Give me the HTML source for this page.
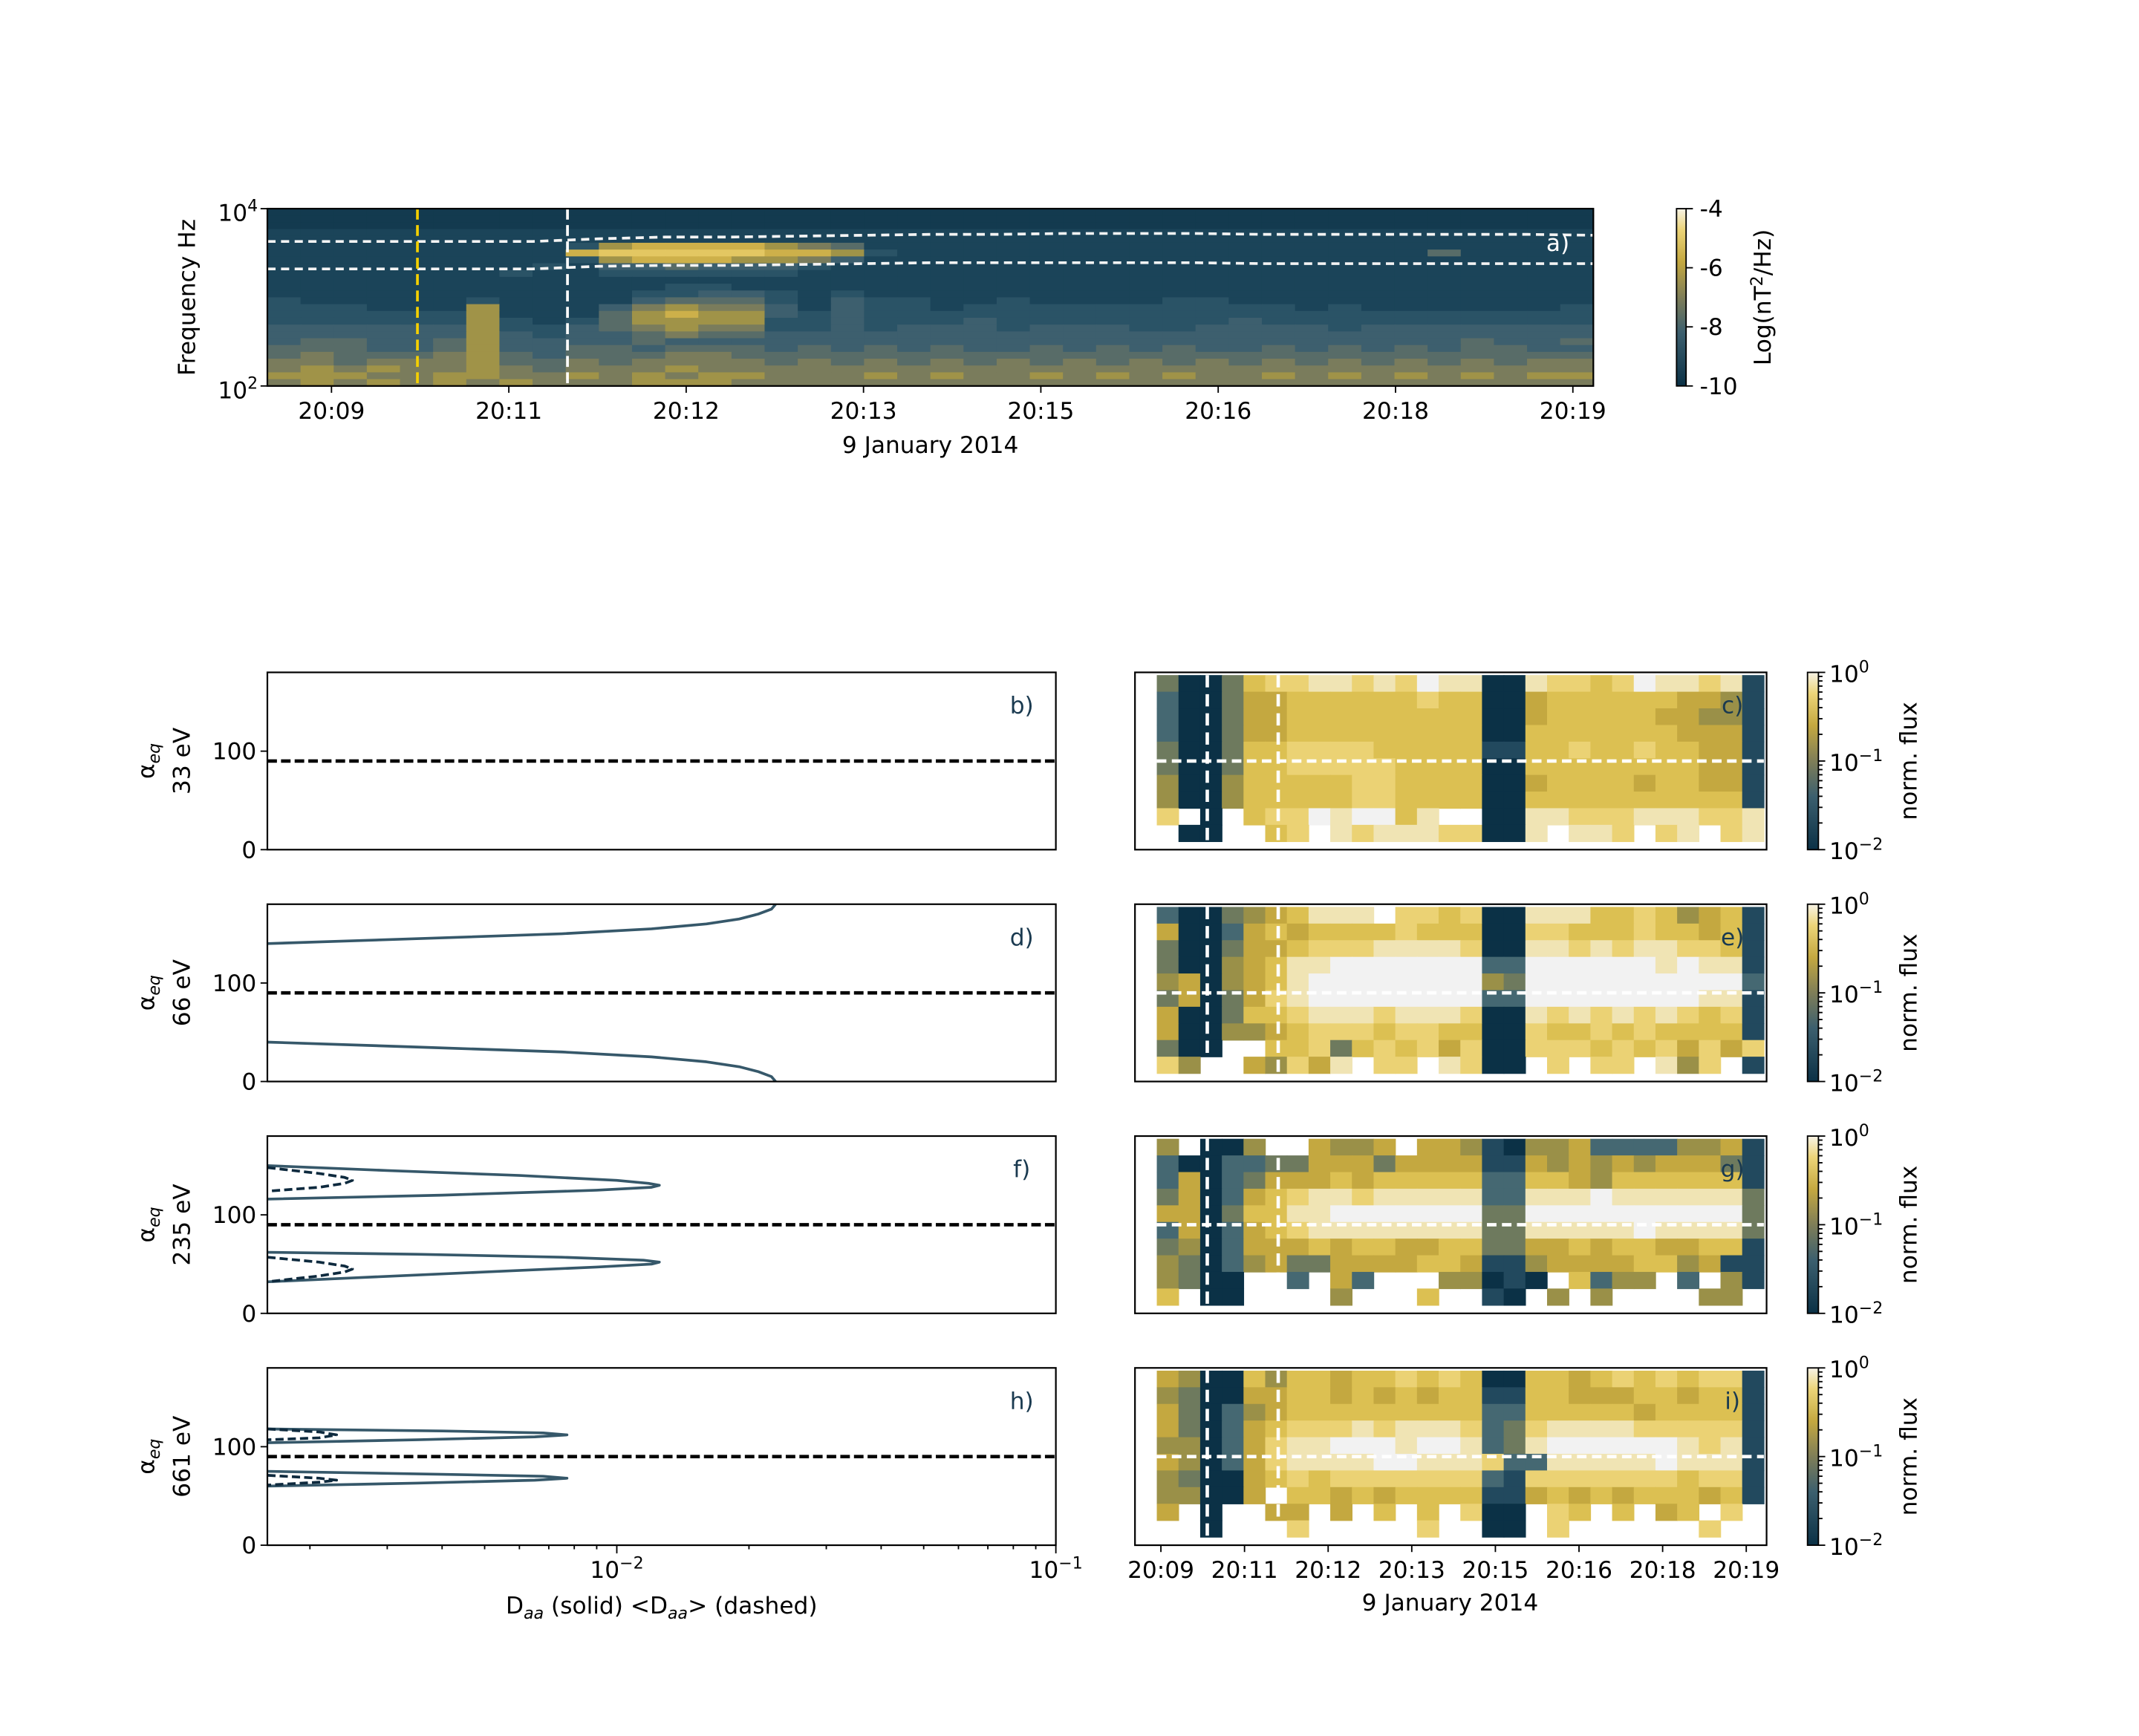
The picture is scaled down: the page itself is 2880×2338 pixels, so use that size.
<!DOCTYPE html>
<html><head><meta charset="utf-8"><style>
html,body{margin:0;padding:0;background:#fff}
svg{display:block;font-family:"DejaVu Sans","Liberation Sans",sans-serif}
</style></head><body>
<svg id="fig" xmlns="http://www.w3.org/2000/svg" width="2880" height="2338" viewBox="0 0 1568 1272.9" preserveAspectRatio="none">
<defs>
<linearGradient id="cb" x1="0" y1="1" x2="0" y2="0">
<stop offset="0" stop-color="#0b3146"/><stop offset="0.3" stop-color="#3c5f6e"/><stop offset="0.5" stop-color="#7f7e58"/><stop offset="0.7" stop-color="#c4a840"/><stop offset="0.88" stop-color="#ecd478"/><stop offset="1" stop-color="#f7f3e6"/>
</linearGradient>
</defs>
</svg>
<script>
// ---------- data ----------
const specRows = [
"0000000000000000000000000000000000000000",
"0000000000000000000000000000000000000000",
"0000000000000000000000000000000000000000",
"1111111111111111111111111111111111111111",
"1111111111111111111111111111111111111111",
"1111111112677776541111111111111111111111",
"1111111117888887762111111111111111141111",
"1111111112677766531111111111111111111111",
"1111111121334333211111111111111111111111",
"1111111211222222111111111111111111111111",
"1111111111111111111111111111111111111111",
"1111111111112211111111111111111111111111",
"1111111111122332121111111111111111111111",
"2111112111134442132211211112211111111111",
"2221116111356553132212222222222121111112",
"2222226111467663232222222222222222222222",
"2222226212466662232223222222232222222222",
"3333336223456552232333233322333323333333",
"3333336323345443333333333333333333333333",
"3443346333343333333333333333333333334334",
"4443346334434443434343343434334343434433",
"4544456434445544444444444444444444444444",
"5545556445455554545454545454545454545455",
"5656556545556555555555555555555555555555",
"6665566556565665556565565656556565656566",
"5656565655566655555555555555555555555555"];
const specTickLabels = ["20:09","20:11","20:12","20:13","20:15","20:16","20:18","20:19"];
const fceUpper = [3.63,3.63,3.63,3.63,3.63,3.66,3.68,3.68,3.69,3.70,3.71,3.71,3.72,3.72,3.72,3.71,3.71,3.71,3.71,3.71,3.70];
const fceLower = [3.32,3.32,3.32,3.32,3.32,3.35,3.36,3.36,3.37,3.38,3.39,3.39,3.39,3.39,3.39,3.38,3.38,3.38,3.38,3.38,3.38];
const heatC = [
"3003677887879880087767988781",
"2003556666667660056666665541",
"2003556666666660056666655441",
"2003556666666660066666665551",
"3003667777666661166766766551",
"3003667777766660066666666551",
"4004666667766660056666566551",
"4004666667766660066666666661",
"7.0.677989968..0088777888778",
".00..67.8788877008.887.78.78"];
const heatE = [
"2003456888.776700888667645 61",
"5002565666676660077666766561",
"3003556777888870088787887761",
"3004568899999992299999989881",
"4504568999999994399999999992",
"3503578999999992299999999881",
"5003667888788870087878787671",
"5004456777677660076676766661",
"300..6673676757007776767575761",
"74..54758.77.8700.7.77.847.1"];
const heatG = [
"4.004..5445.5541044522224451",
"2002233555355551154545455531",
"2502355565666662266546666661",
"3502567887888882288898888883",
"5503668899999993399999999993",
"2502567888888883388888988883",
"3402555656655663355656655661",
"4302453355556651145555664511",
"4300..2.52...44010.6244.2.41.",
"6.00....4...6..10.4.4....44."];
const heatI = [
"5400646656676760066567676771",
"4300556656565661166555665661",
"5302456666666662266666566661",
"5302567778788872378888777771",
"4402578899989982389999998781",
"5402578888998887228888898881",
"4300567677777772177777776771",
"44005.665656666115656566 6561",
"5.0..55.5.6.6.700.76.6.56.7.",
"..0...7.....7..00.7......7.."];
const heatTickLabels = ["20:09","20:11","20:12","20:13","20:15","20:16","20:18","20:19"];
// pitch-angle curves (alpha_eq degrees, D values)
const dUpA = [140,145,150,155,160,165,170,175,180];
const dUpD = [0.0016,0.0035,0.0075,0.012,0.016,0.019,0.021,0.0225,0.023];
const dLoA = [40,35,30,25,20,15,10,5,0];
const dLoD = [0.0016,0.0035,0.0075,0.012,0.016,0.019,0.021,0.0225,0.023];
const fUpA = [150,145,140,135,132,130,128,125,120,116];
const fUpD = [0.0016,0.0030,0.006,0.010,0.0118,0.0125,0.0120,0.009,0.004,0.0016];
const fLoA = [62,60,57,54,52,50,47,42,36,32];
const fLoD = [0.0016,0.0035,0.0075,0.0115,0.0125,0.012,0.009,0.005,0.0025,0.0016];
const fUpDashA = [148,142,138,135,132,128,124];
const fUpDashD = [0.0016,0.0021,0.0024,0.0025,0.0024,0.0021,0.0016];
const fLoDashA = [57,52,48,45,42,38,32];
const fLoDashD = [0.0016,0.0021,0.0024,0.0025,0.0024,0.0021,0.0016];
const hUpA = [118,116,114,112,110,107,104];
const hUpD = [0.0016,0.004,0.0068,0.0077,0.0065,0.0035,0.0016];
const hLoA = [75,72,70,68,66,63,60];
const hLoD = [0.0016,0.004,0.0068,0.0077,0.0065,0.0035,0.0016];
const hUpDashA = [118,115,112,109,107];
const hUpDashD = [0.0016,0.0021,0.0023,0.0021,0.0016];
const hLoDashA = [71,68,66,64,61];
const hLoDashD = [0.0016,0.0021,0.0023,0.0021,0.0016];

// ---------- helpers ----------
const NS="http://www.w3.org/2000/svg";
const svg=document.getElementById('fig');
const pal=["#133a4f","#1b4459","#2a5366","#3d5f6e","#586c68","#7a7c5c","#a09348","#cdb04a","#e3c762","#f0e0a0"];
const pal2=["#0b3146","#22495e","#456872","#6e7a5e","#9a9048","#c4a840","#dcc052","#ebd274","#f0e4b4","#f2f2f2"];
const FS=17;
function el(tag,attrs,parent){const e=document.createElementNS(NS,tag);for(const k in attrs)e.setAttribute(k,attrs[k]);(parent||svg).appendChild(e);return e;}
function txt(s,x,y,size,anchor,parent,extra){const t=el('text',Object.assign({x:x,y:y,'font-size':size,'text-anchor':anchor||'middle',fill:'#000'},extra||{}),parent);t.textContent=s;return t;}

// ---------- panel a ----------
const A={x0:196,x1:1168,y0:153,y1:283};
const ga=el('g',{});


const nC=40,nR=specRows.length;
const cw=(A.x1-A.x0)/nC,rh=(A.y1-A.y0)/nR;
specRows.forEach((row,r)=>{for(let c=0;c<nC;c++){const ch=row[c]||'1';const v=parseInt(ch);
 const rc=el('rect',{x:A.x0+c*cw,y:A.y0+r*rh,width:cw+0.5,height:rh+0.5,fill:pal[isNaN(v)?1:v]},ga);
 
 }});
function fy(lf){return A.y1-(lf-2)/2*(A.y1-A.y0);}
function fx(i,n){return A.x0+i/(n-1)*(A.x1-A.x0);}
[fceUpper,fceLower].forEach((arr,k)=>{const p=el('polyline',{points:arr.map((v,i)=>fx(i,arr.length)+','+fy(v)).join(' '),fill:'none',stroke:'#f4f4f4','stroke-width':2,'stroke-dasharray':'6,4'},ga);
 
 });
let vl=el('line',{x1:306,x2:306,y1:A.y0,y2:A.y1,stroke:'#f5d000','stroke-width':2,'stroke-dasharray':'8,4'},ga);


vl=el('line',{x1:416,x2:416,y1:A.y0,y2:A.y1,stroke:'#fff','stroke-width':2,'stroke-dasharray':'8,4'},ga);


el('rect',{x:A.x0,y:A.y0,width:A.x1-A.x0,height:A.y1-A.y0,fill:'none',stroke:'#000','stroke-width':1.2},ga);
txt('a)',1142,184,FS,'middle',ga,{fill:'#fff'});
specTickLabels.forEach((l,i)=>{const x=243+i*130;el('line',{x1:x,x2:x,y1:A.y1,y2:A.y1+5,stroke:'#000'},ga);const t=txt(l,x,307,FS,'middle',ga);
 
 });
txt('9 January 2014',682,332,FS,'middle',ga);
el('line',{x1:A.x0-5,x2:A.x0,y1:A.y0,y2:A.y0,stroke:'#000'},ga);
el('line',{x1:A.x0-5,x2:A.x0,y1:A.y1,y2:A.y1,stroke:'#000'},ga);
let t=el('text',{x:189,y:162,'font-size':FS,'text-anchor':'end'},ga);t.innerHTML='10<tspan dy="-7" font-size="12">4</tspan>';
t=el('text',{x:189,y:292,'font-size':FS,'text-anchor':'end'},ga);t.innerHTML='10<tspan dy="-7" font-size="12">2</tspan>';
t=txt('Frequency Hz',143,218,FS,'middle',ga,{transform:'rotate(-90 143 218)'});


// colorbar a
const cba=el('g',{});


el('rect',{x:1229,y:153,width:7,height:130,fill:'url(#cb)',stroke:'#000','stroke-width':1},cba);
['-4','-6','-8','-10'].forEach((l,i)=>{const y=153+i*130/3;el('line',{x1:1236,x2:1241,y1:y,y2:y,stroke:'#000'},cba);txt(l,1246,y+6,FS,'start',cba);});
t=el('text',{x:1298,y:218,'font-size':FS,'text-anchor':'middle',transform:'rotate(-90 1298 218)'},cba);t.innerHTML='Log(nT<tspan dy="-6" font-size="12">2</tspan><tspan dy="6">/Hz)</tspan>';

// ---------- left panels ----------
const L={x0:196,x1:774};
const tops=[493,663,833,1003],PH=130;
function lx(d){return L.x0+(Math.log10(d)-Math.log10(0.0016))/( -1-Math.log10(0.0016))*(L.x1-L.x0);}
const energies=['33 eV','66 eV','235 eV','661 eV'];
const leftLetters=['b)','d)','f)','h)'];
const curves=[[],[[dUpA,dUpD,0],[dLoA,dLoD,0]],[[fUpA,fUpD,0],[fLoA,fLoD,0],[fUpDashA,fUpDashD,1],[fLoDashA,fLoDashD,1]],[[hUpA,hUpD,0],[hLoA,hLoD,0],[hUpDashA,hUpDashD,1],[hLoDashA,hLoDashD,1]]];
tops.forEach((top,k)=>{
 const g=el('g',{});
 
 
 const ay=a=>top+PH-a/180*PH;
 curves[k].forEach(([aa,dd,dash])=>{const p=el('polyline',{points:aa.map((a,i)=>lx(dd[i])+','+ay(a)).join(' '),fill:'none',stroke:dash?'#0e2a3e':'#36586a','stroke-width':2,'stroke-dasharray':dash?'6,3':'none','stroke-linejoin':'round'},g);
  
  });
 const hl=el('line',{x1:L.x0,x2:L.x1,y1:ay(90),y2:ay(90),stroke:'#000','stroke-width':2.5,'stroke-dasharray':'7,3'},g);
 
 
 el('rect',{x:L.x0,y:top,width:L.x1-L.x0,height:PH,fill:'none',stroke:'#000','stroke-width':1.2},g);
 [0,100].forEach(v=>{el('line',{x1:L.x0-5,x2:L.x0,y1:ay(v),y2:ay(v),stroke:'#000'},g);txt(String(v),L.x0-8,ay(v)+6,FS,'end',g);});
 txt(leftLetters[k],749,top+30,FS,'middle',g,{fill:'#1a3a50'});
 const cx=113,cy=top+PH/2;
 const yl=el('text',{x:cx,y:cy,'font-size':FS,'text-anchor':'middle',transform:'rotate(-90 '+cx+' '+cy+')'},g);yl.innerHTML='α<tspan dy="4" font-size="12" font-style="italic">eq</tspan>';
 txt(energies[k],139,cy,FS,'middle',g,{transform:'rotate(-90 139 '+cy+')'});
});
// log x-axis on bottom left panel
{const yb=tops[3]+PH;const g=el('g',{});
 
 
 for(let e=-3;e<=-2;e++)for(let m=2;m<=9;m++){const d=m*Math.pow(10,e);if(d<0.0016)continue;el('line',{x1:lx(d),x2:lx(d),y1:yb,y2:yb+3,stroke:'#000'},g);}
 [[-2,'−2'],[-1,'−1']].forEach(([e,s])=>{const x=lx(Math.pow(10,e));el('line',{x1:x,x2:x,y1:yb,y2:yb+6,stroke:'#000'},g);const tt=el('text',{x:x,y:yb+24,'font-size':FS,'text-anchor':'middle'},g);tt.innerHTML='10<tspan dy="-7" font-size="12">'+s+'</tspan>';});
 const xl=el('text',{x:485,y:1183,'font-size':FS,'text-anchor':'middle'},g);xl.innerHTML='D<tspan dy="4" font-size="12" font-style="italic">aa</tspan><tspan dy="-4"> (solid)  &lt;D</tspan><tspan dy="4" font-size="12" font-style="italic">aa</tspan><tspan dy="-4">&gt;  (dashed)</tspan>';
 
 }

// ---------- right heatmaps ----------
const R={x0:832,x1:1295,gx0:848,gx1:1293};
const heats=[heatC,heatE,heatG,heatI],rightLetters=['c)','e)','g)','i)'];
tops.forEach((top,k)=>{
 const g=el('g',{});
 
 
 const rows=heats[k],nr=rows.length,nc=28;
 const w=(R.gx1-R.gx0)/nc,h=(PH-8)/nr;
 rows.forEach((row,r)=>{const s=row.replace(/ /g,'');for(let c=0;c<nc;c++){const ch=s[c]||'.';if(ch==='.')continue;const v=parseInt(ch);
  const rc=el('rect',{x:R.gx0+c*w,y:top+2+r*h,width:w+0.4,height:h+0.4,fill:pal2[v]},g);
  
  }});
 const ay=top+PH-90/180*PH;
 el('line',{x1:R.gx0,x2:R.gx1,y1:ay,y2:ay,stroke:'#fff','stroke-width':2.5,'stroke-dasharray':'7,4'},g);
 [885,937].forEach(x=>el('line',{x1:x,x2:x,y1:top+2,y2:top+PH-2,stroke:'#fff','stroke-width':2.5,'stroke-dasharray':'9,5'},g));
 el('rect',{x:R.x0,y:top,width:R.x1-R.x0,height:PH,fill:'none',stroke:'#000','stroke-width':1.2},g);
 txt(rightLetters[k],1270,top+30,FS,'middle',g,{fill:'#1a3a50'});
 // colorbar
 const cb=el('g',{},g);
 
 
 el('rect',{x:1325,y:top,width:8,height:PH,fill:'url(#cb)',stroke:'#000','stroke-width':1},cb);
 for(let e=-2;e<0;e++)for(let m=2;m<=9;m++){const y=top+PH-(e+2+Math.log10(m))/2*PH;el('line',{x1:1333,x2:1336,y1:y,y2:y,stroke:'#000'},cb);}
 [['0',0],['−1',1],['−2',2]].forEach(([s,i])=>{const y=top+i*PH/2;el('line',{x1:1333,x2:1338,y1:y,y2:y,stroke:'#000'},cb);const tt=el('text',{x:1341,y:y+7,'font-size':FS},cb);tt.innerHTML='10<tspan dy="-7" font-size="12">'+s+'</tspan>';});
 txt('norm. flux',1405,top+PH/2,FS,'middle',cb,{transform:'rotate(-90 1405 '+(top+PH/2)+')'});
});
{const yb=tops[3]+PH;const g=el('g',{});
 
 
 heatTickLabels.forEach((l,i)=>{const x=851+i*61.3;el('line',{x1:x,x2:x,y1:yb,y2:yb+5,stroke:'#000'},g);txt(l,x,yb+24,FS,'middle',g);});
 txt('9 January 2014',1063,1181,FS,'middle',g);}
</script>
</body></html>
